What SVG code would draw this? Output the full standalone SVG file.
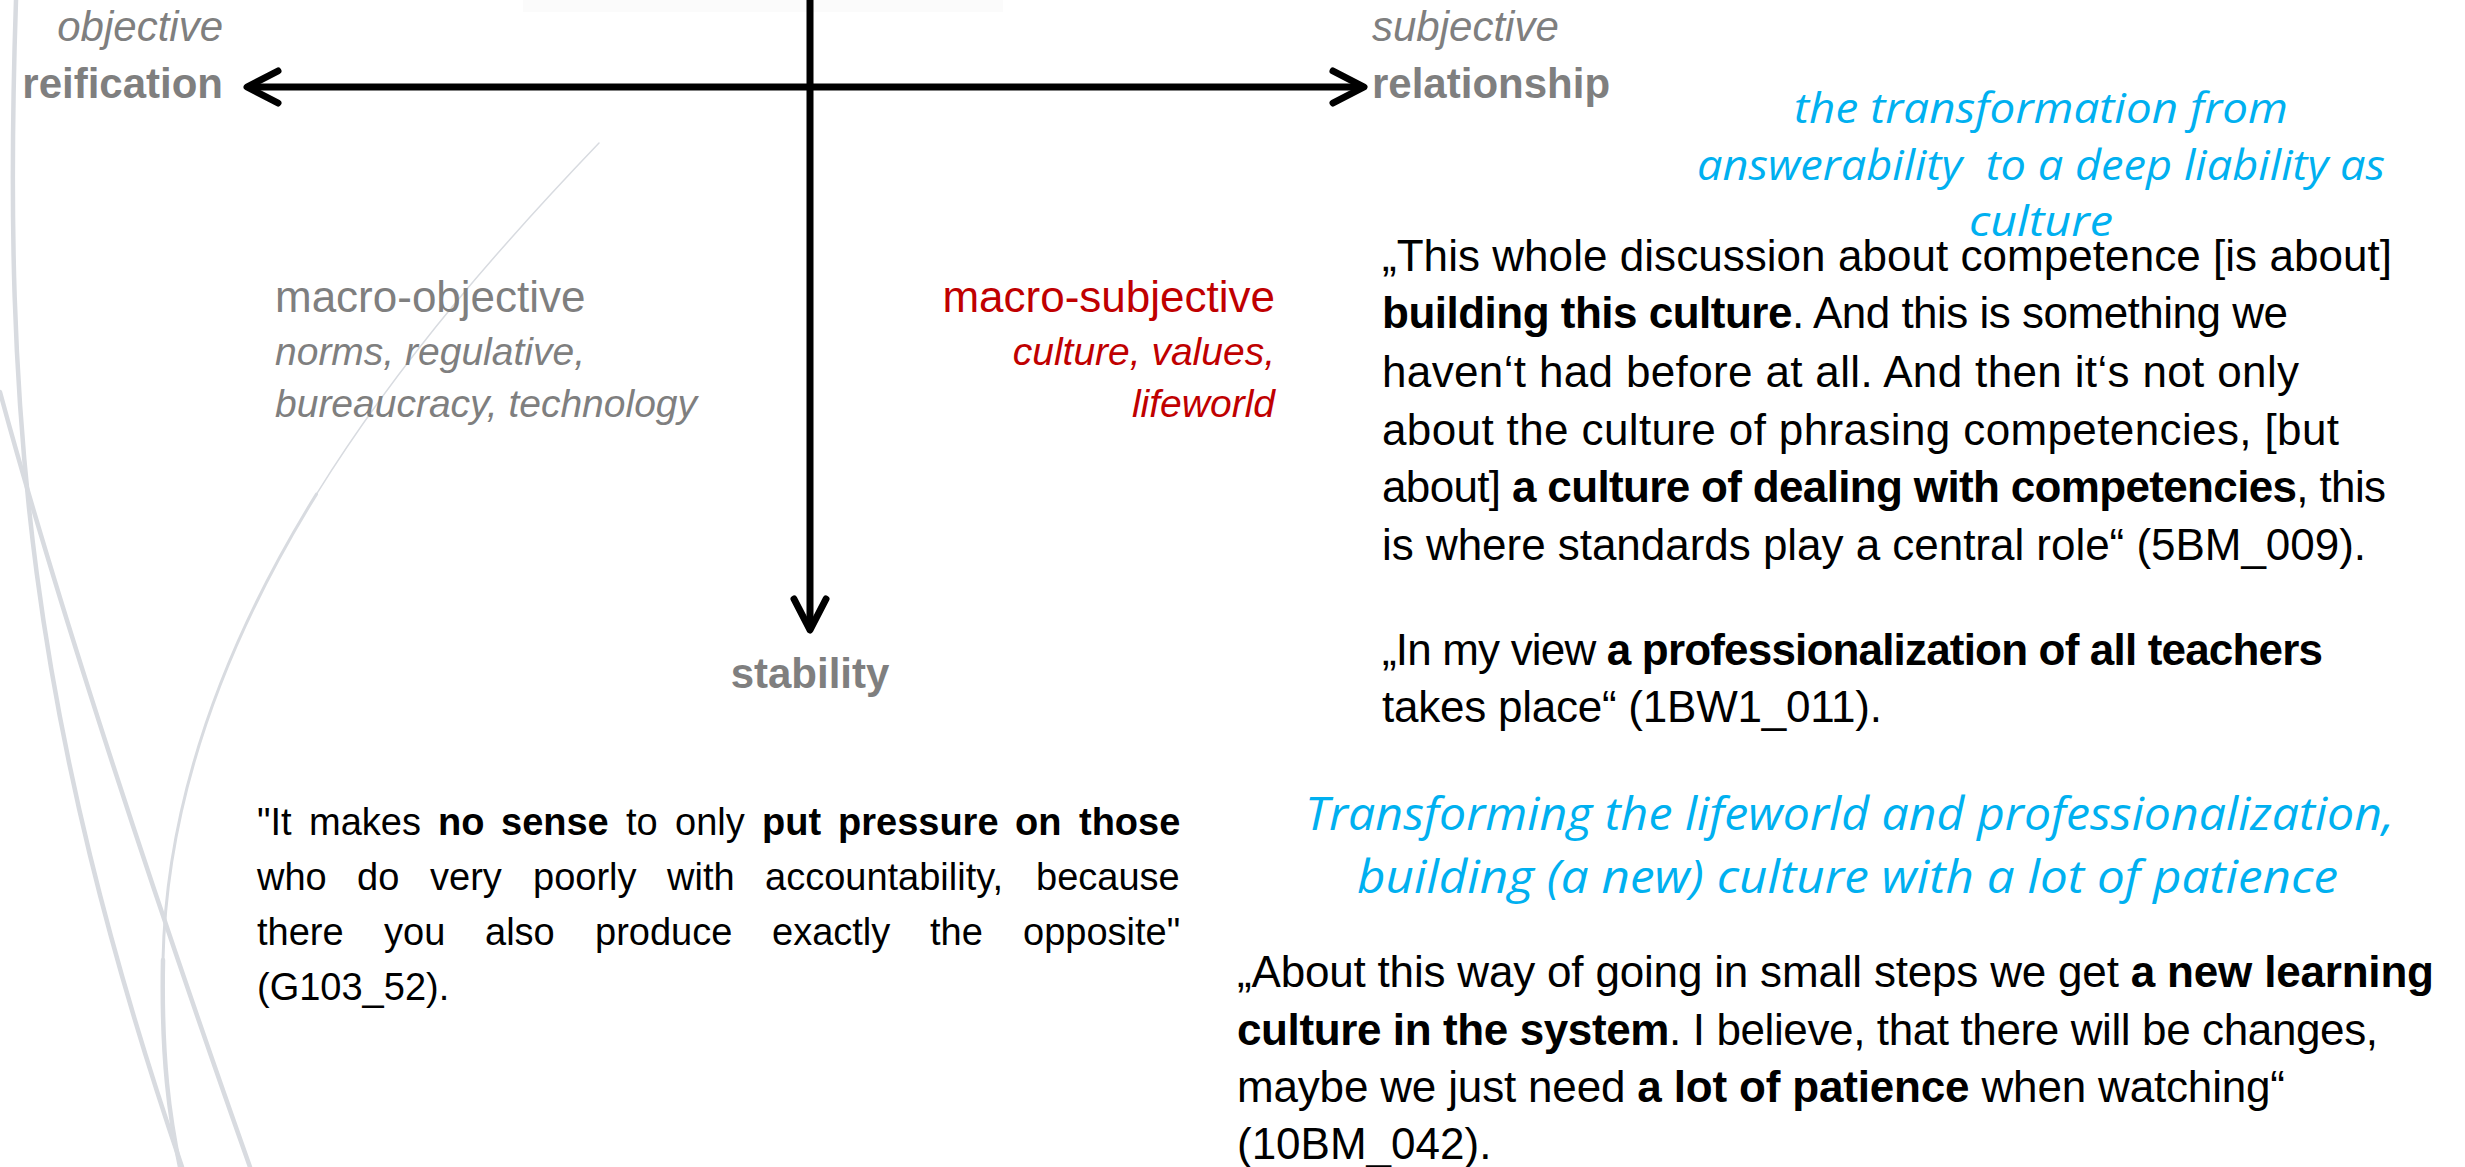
<svg xmlns="http://www.w3.org/2000/svg" width="2465" height="1167" viewBox="0 0 2465 1167">
<style>
.sans{font-family:"Liberation Sans",Arial,sans-serif}
.lbl{fill:#7f7f7f}
.b{font-weight:bold}
.i{font-style:italic}
.red{fill:#c00000}
.q{font-size:44px;fill:#000}
.lq{font-size:38px;fill:#000}
.hd{font-family:"Open Sans","Noto Sans",sans-serif;font-style:italic;fill:#00b0f0}
.deco{fill:none;stroke:#d8dbe0;stroke-linecap:round}
.axis{fill:none;stroke:#000;stroke-width:7}
</style>
<defs>
<marker id="chev" viewBox="-40 -24 48 48" refX="0" refY="0" markerWidth="48" markerHeight="48" markerUnits="userSpaceOnUse" orient="auto-start-reverse">
<path d="M-31,-16 L0,0 L-31,16" fill="none" stroke="#000" stroke-width="7" stroke-linecap="round" stroke-linejoin="round"/>
</marker>
</defs>
<rect width="2465" height="1167" fill="#fff"/>
<rect x="523" y="0" width="480" height="12" fill="#fbfbfb"/>
<g id="decoration">
<path class="deco" stroke-width="4.5" d="M16,0 C2,420 30,720 182,1167"/>
<path class="deco" stroke-width="4.5" d="M0,392 C40,540 120,800 250,1167"/>
<path class="deco" stroke-width="1.5" d="M599,143 C509.5,236.5 402.25,355.75 316.5,494.1"/>
<path class="deco" stroke-width="3" d="M316.5,494.1 C230.75,632.5 166.5,790 163,960"/>
<path class="deco" stroke-width="4.5" d="M163,960 C161,1060 170,1120 180,1167"/>
</g>
<g id="connectors">
<path class="axis" d="M247,87 L1364,87" marker-start="url(#chev)" marker-end="url(#chev)"/>
<path class="axis" d="M810,-5 L810,630" marker-end="url(#chev)"/>
</g>
<g id="node-reification" class="sans lbl">
<text class="i" x="223" y="41" font-size="42" text-anchor="end">objective</text>
<text class="b" x="223" y="98" font-size="42" text-anchor="end">reification</text>
</g>
<g id="node-relationship" class="sans lbl">
<text class="i" x="1372" y="41" font-size="42">subjective</text>
<text class="b" x="1372" y="98" font-size="42">relationship</text>
</g>
<g id="node-stability" class="sans lbl">
<text class="b" x="810" y="688" font-size="42" text-anchor="middle">stability</text>
</g>
<g id="node-macro-objective" class="sans lbl">
<text x="275" y="312" font-size="44">macro-objective</text>
<text class="i" x="275" y="365" font-size="39">norms, regulative,</text>
<text class="i" x="275" y="417" font-size="39">bureaucracy, technology</text>
</g>
<g id="node-macro-subjective" class="sans red">
<text x="1275" y="312" font-size="44" text-anchor="end">macro-subjective</text>
<text class="i" x="1275" y="365" font-size="39" text-anchor="end">culture, values,</text>
<text class="i" x="1275" y="417" font-size="39" text-anchor="end">lifeworld</text>
</g>
<g id="node-heading-transformation" class="hd" font-size="42">
<text x="1794" y="123" textLength="494" lengthAdjust="spacingAndGlyphs">the transformation from</text>
<text x="1697" y="180" textLength="688" lengthAdjust="spacingAndGlyphs" style="white-space:pre" xml:space="preserve">answerability  to a deep liability as</text>
<text x="1969" y="236" textLength="144" lengthAdjust="spacingAndGlyphs">culture</text>
</g>
<g id="node-quote-culture" class="sans q">
<text x="1382" y="271" textLength="1010" lengthAdjust="spacing">„This whole discussion about competence [is about]</text>
<text x="1382" y="328" textLength="906" lengthAdjust="spacing"><tspan class="b">building this culture</tspan>. And this is something we</text>
<text x="1382" y="387" textLength="917" lengthAdjust="spacing">haven‘t had before at all. And then it‘s not only</text>
<text x="1382" y="445" textLength="957" lengthAdjust="spacing">about the culture of phrasing competencies, [but</text>
<text x="1382" y="502" textLength="1004" lengthAdjust="spacing">about] <tspan class="b">a culture of dealing with competencies</tspan>, this</text>
<text x="1382" y="560" textLength="984" lengthAdjust="spacing">is where standards play a central role“ (5BM_009).</text>
<text x="1382" y="665" textLength="941" lengthAdjust="spacing">„In my view <tspan class="b">a professionalization of all teachers</tspan></text>
<text x="1382" y="722" textLength="500" lengthAdjust="spacing">takes place“ (1BW1_011).</text>
</g>
<g id="node-quote-pressure" class="sans lq">
<text y="835"><tspan x="257">"It</tspan><tspan x="309">makes</tspan><tspan x="438" class="b">no</tspan><tspan x="501" class="b">sense</tspan><tspan x="626">to</tspan><tspan x="675">only</tspan><tspan x="762" class="b">put</tspan><tspan x="838" class="b">pressure</tspan><tspan x="1015" class="b">on</tspan><tspan x="1079" class="b">those</tspan></text>
<text y="890"><tspan x="257">who</tspan><tspan x="357">do</tspan><tspan x="430">very</tspan><tspan x="533">poorly</tspan><tspan x="667">with</tspan><tspan x="765">accountability,</tspan><tspan x="1036">because</tspan></text>
<text y="945"><tspan x="257">there</tspan><tspan x="384">you</tspan><tspan x="485">also</tspan><tspan x="595">produce</tspan><tspan x="772">exactly</tspan><tspan x="930">the</tspan><tspan x="1023">opposite"</tspan></text>
<text x="257" y="1000">(G103_52).</text>
</g>
<g id="node-heading-lifeworld" class="hd" font-size="46">
<text x="1305" y="830" textLength="1089" lengthAdjust="spacingAndGlyphs">Transforming the lifeworld and professionalization,</text>
<text x="1357" y="893" textLength="981" lengthAdjust="spacingAndGlyphs">building (a new) culture with a lot of patience</text>
</g>
<g id="node-quote-learning" class="sans q">
<text x="1237" y="987" textLength="1197" lengthAdjust="spacing">„About this way of going in small steps we get <tspan class="b">a new learning</tspan></text>
<text x="1237" y="1045" textLength="1141" lengthAdjust="spacing"><tspan class="b">culture in the system</tspan>. I believe, that there will be changes,</text>
<text x="1237" y="1102" textLength="1048" lengthAdjust="spacing">maybe we just need <tspan class="b">a lot of patience</tspan> when watching“</text>
<text x="1237" y="1159">(10BM_042).</text>
</g>
</svg>
